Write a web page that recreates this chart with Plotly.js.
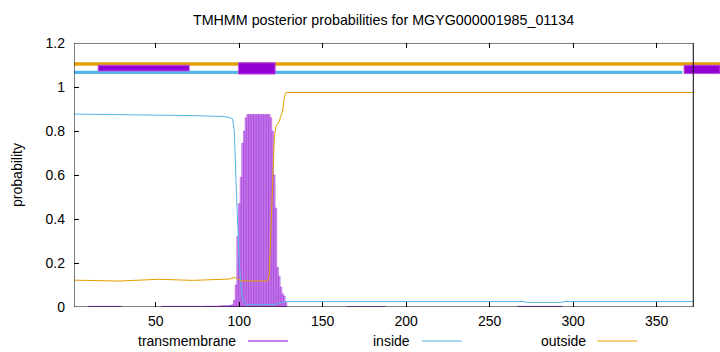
<!DOCTYPE html>
<html>
<head>
<meta charset="utf-8">
<script src="https://cdn.plot.ly/plotly-3.0.1.min.js"></script>
<style>html,body{margin:0;padding:0;background:#fff;}#chart{width:720px;height:352px;}</style>
</head>
<body>
<div id="chart"></div>
<script>
// ---- data ----
const chartTitle = "TMHMM posterior probabilities for MGYG000001985_01134";
const seriesNames = ["transmembrane", "inside", "outside"];
const seriesColors = ["#9400d3", "#56b4e9", "#e69f00"];
const xTicks = [50, 100, 150, 200, 250, 300, 350];
const yTicks = [0, 0.2, 0.4, 0.6, 0.8, 1, 1.2];
const yTickLabels = ["0", "0.2", "0.4", "0.6", "0.8", "1", "1.2"];
const seqLength = 372;
const xEnd = 388;   // extent of the top bars past the frame

// transmembrane posterior (residue, probability); residues not listed are ~0
const tmX = [
  10,11,12,13,14,15,16,17,18,19,20,21,22,23,24,25,26,27,28,29,
  54,55,56,57,58,59,60,61,62,63,64,65,66,67,68,69,70,71,72,73,74,75,76,77,78,79,
  80,81,82,83,84,85,86,87,88,89,90,91,92,93,94,95,96,
  97,98,99,100,101,102,103,104,105,106,107,108,109,110,111,112,113,114,115,116,117,118,
  119,120,121,122,123,124,125,126,127,128,
  165,166,167,168,169,170,171,172,173,174,175,176,177,178,179,180,181,182,183,184,185,186,187,
  267,268,269,270,271,272,273,274,275,276,277,278,279,280,281,282,283,284,285,286,287,288,289,290,291,292,293
];
const tmY = [
  0.003,0.003,0.003,0.003,0.003,0.003,0.003,0.003,0.003,0.003,0.003,0.003,0.003,0.003,0.003,0.003,0.003,0.003,0.003,0.003,
  0.003,0.003,0.003,0.003,0.003,0.003,0.003,0.003,0.003,0.003,0.003,0.003,0.003,0.003,0.003,0.003,0.003,0.003,0.003,0.003,0.003,0.003,0.003,0.003,0.003,0.003,
  0.004,0.004,0.004,0.004,0.004,0.004,0.004,0.004,0.005,0.005,0.006,0.006,0.006,0.006,0.007,0.008,0.01,
  0.03,0.10,0.32,0.47,0.59,0.745,0.80,0.86,0.875,0.875,0.875,0.875,0.875,0.875,0.875,0.875,0.875,0.875,0.875,0.875,0.875,0.875,
  0.86,0.80,0.60,0.45,0.18,0.14,0.09,0.06,0.05,0.02,
  0.002,0.002,0.002,0.002,0.002,0.002,0.002,0.002,0.002,0.002,0.002,0.002,0.002,0.002,0.002,0.002,0.002,0.002,0.002,0.002,0.002,0.002,0.002,
  0.003,0.003,0.003,0.003,0.003,0.003,0.003,0.003,0.003,0.003,0.003,0.003,0.003,0.003,0.003,0.003,0.003,0.003,0.003,0.003,0.003,0.003,0.003,0.003,0.003,0.003,0.003
];

// inside posterior
const insideX = [1, 12, 40, 72, 90, 94, 96, 97, 98, 99, 100, 101, 102, 103, 104, 110, 120, 122, 124, 126, 128, 270, 272, 293, 295, 372];
const insideY = [0.877, 0.876, 0.874, 0.870, 0.866, 0.862, 0.855, 0.80, 0.58, 0.38, 0.20, 0.10, 0.04, 0.02, 0.012, 0.01, 0.01, 0.012, 0.018, 0.023, 0.025, 0.025, 0.021, 0.021, 0.025, 0.025];

// outside posterior
const outsideX = [1, 28, 52, 72, 94, 97, 99, 101, 104, 117, 118, 119, 120, 121, 122, 123, 124, 125, 126, 127, 128, 372];
const outsideY = [0.122, 0.118, 0.126, 0.121, 0.127, 0.135, 0.128, 0.12, 0.118, 0.118, 0.15, 0.33, 0.56, 0.77, 0.82, 0.835, 0.845, 0.87, 0.89, 0.955, 0.975, 0.975];

// predicted topology bars at the top: [start, end, low, high]
const outsideBar = [1, xEnd, 1.097, 1.113];
const insideBar = [1, 365.5, 1.059, 1.074];
const tmBoxes = [
  [15.5, 70, 1.073, 1.099],
  [99.5, 121.5, 1.059, 1.110],
  [366.5, xEnd, 1.061, 1.099]
];

// ---- traces ----
const traces = [
  {type: "bar", x: tmX, y: tmY, name: seriesNames[0], width: 1,
   marker: {color: "rgba(160,40,220,0.5)", line: {color: "#9a20d8", width: 0.4}},
   showlegend: false, hoverinfo: "skip"},
  {type: "scatter", mode: "lines", x: insideX, y: insideY, name: seriesNames[1],
   line: {color: seriesColors[1], width: 1}, showlegend: false, hoverinfo: "skip"},
  {type: "scatter", mode: "lines", x: outsideX, y: outsideY, name: seriesNames[2],
   line: {color: seriesColors[2], width: 1}, showlegend: false, hoverinfo: "skip"}
];

// ---- shapes ----
const shapes = [];
function barShape(b, color) {
  return {type: "rect", xref: "x", yref: "y", x0: b[0], x1: b[1], y0: b[2], y1: b[3],
          fillcolor: color, line: {width: 0}, layer: "above"};
}
shapes.push(barShape(outsideBar, seriesColors[2]));
shapes.push(barShape(insideBar, seriesColors[1]));
tmBoxes.forEach(b => shapes.push({type: "rect", xref: "x", yref: "y", x0: b[0], x1: b[1], y0: b[2], y1: b[3],
  fillcolor: seriesColors[0], line: {color: "#b84ee6", width: 1}, layer: "above"}));
// frame
shapes.push({type: "rect", xref: "x", yref: "y", x0: 1, x1: seqLength, y0: 0, y1: 1.2,
  line: {color: "#000", width: 1}, fillcolor: "rgba(0,0,0,0)", layer: "above"});

// legend in gnuplot style: label, then sample line
const legendPos = [
  {right: 238, s0: 248, s1: 288},
  {right: 412, s0: 422, s1: 462},
  {right: 588, s0: 597, s1: 637}
];
const L = 74, W = 646, T = 43, H = 264;
const px2x = p => (p - L) / W;
const py2y = p => (T + H - p) / H;
const annotations = [];
seriesNames.forEach((n, i) => {
  const lp = legendPos[i];
  annotations.push({xref: "paper", yref: "paper", x: px2x(lp.right), y: py2y(341),
    xanchor: "right", yanchor: "middle", text: n, showarrow: false,
    font: {family: "Liberation Sans, Arial, sans-serif", size: 14, color: "#000"}});
  shapes.push({type: "line", xref: "paper", yref: "paper", x0: px2x(lp.s0), x1: px2x(lp.s1),
    y0: py2y(341), y1: py2y(341), line: {color: seriesColors[i], width: 1}});
});

const font = {family: "Liberation Sans, Arial, sans-serif", size: 14, color: "#000"};
const layout = {
  width: 720, height: 352,
  margin: {l: L, r: 720 - L - W, t: T, b: 352 - T - H, pad: 0},
  paper_bgcolor: "#fff", plot_bgcolor: "#fff",
  font: font,
  showlegend: false,
  bargap: 0,
  title: {text: chartTitle, font: {family: font.family, size: 14.3, color: "#000"},
          x: 383.5 / 720, xref: "container", xanchor: "center",
          y: 1 - 20 / 352, yref: "container", yanchor: "middle"},
  xaxis: {range: [1, xEnd], tickvals: xTicks, ticktext: xTicks.map(String),
          ticks: "inside", ticklen: 5, tickcolor: "#000", tickwidth: 1, mirror: "ticks",
          showline: false, showgrid: false, zeroline: false, ticklabelstandoff: 4,
          tickfont: font},
  yaxis: {range: [0, 1.2], tickvals: yTicks, ticktext: yTickLabels,
          ticks: "inside", ticklen: 5, tickcolor: "#000", tickwidth: 1,
          showline: false, showgrid: false, zeroline: false, ticklabelstandoff: 8,
          tickfont: font,
          title: {text: "probability", font: font, standoff: 19}},
  yaxis2: {overlaying: "y", anchor: "free", position: (seqLength - 1) / (xEnd - 1), side: "right",
           range: [0, 1.2], tickvals: yTicks, ticks: "inside", ticklen: 5, tickcolor: "#000",
           showticklabels: false, showline: false, showgrid: false, zeroline: false},
  shapes: shapes,
  annotations: annotations
};

Plotly.newPlot("chart", traces, layout, {staticPlot: true, displayModeBar: false});
</script>
</body>
</html>
